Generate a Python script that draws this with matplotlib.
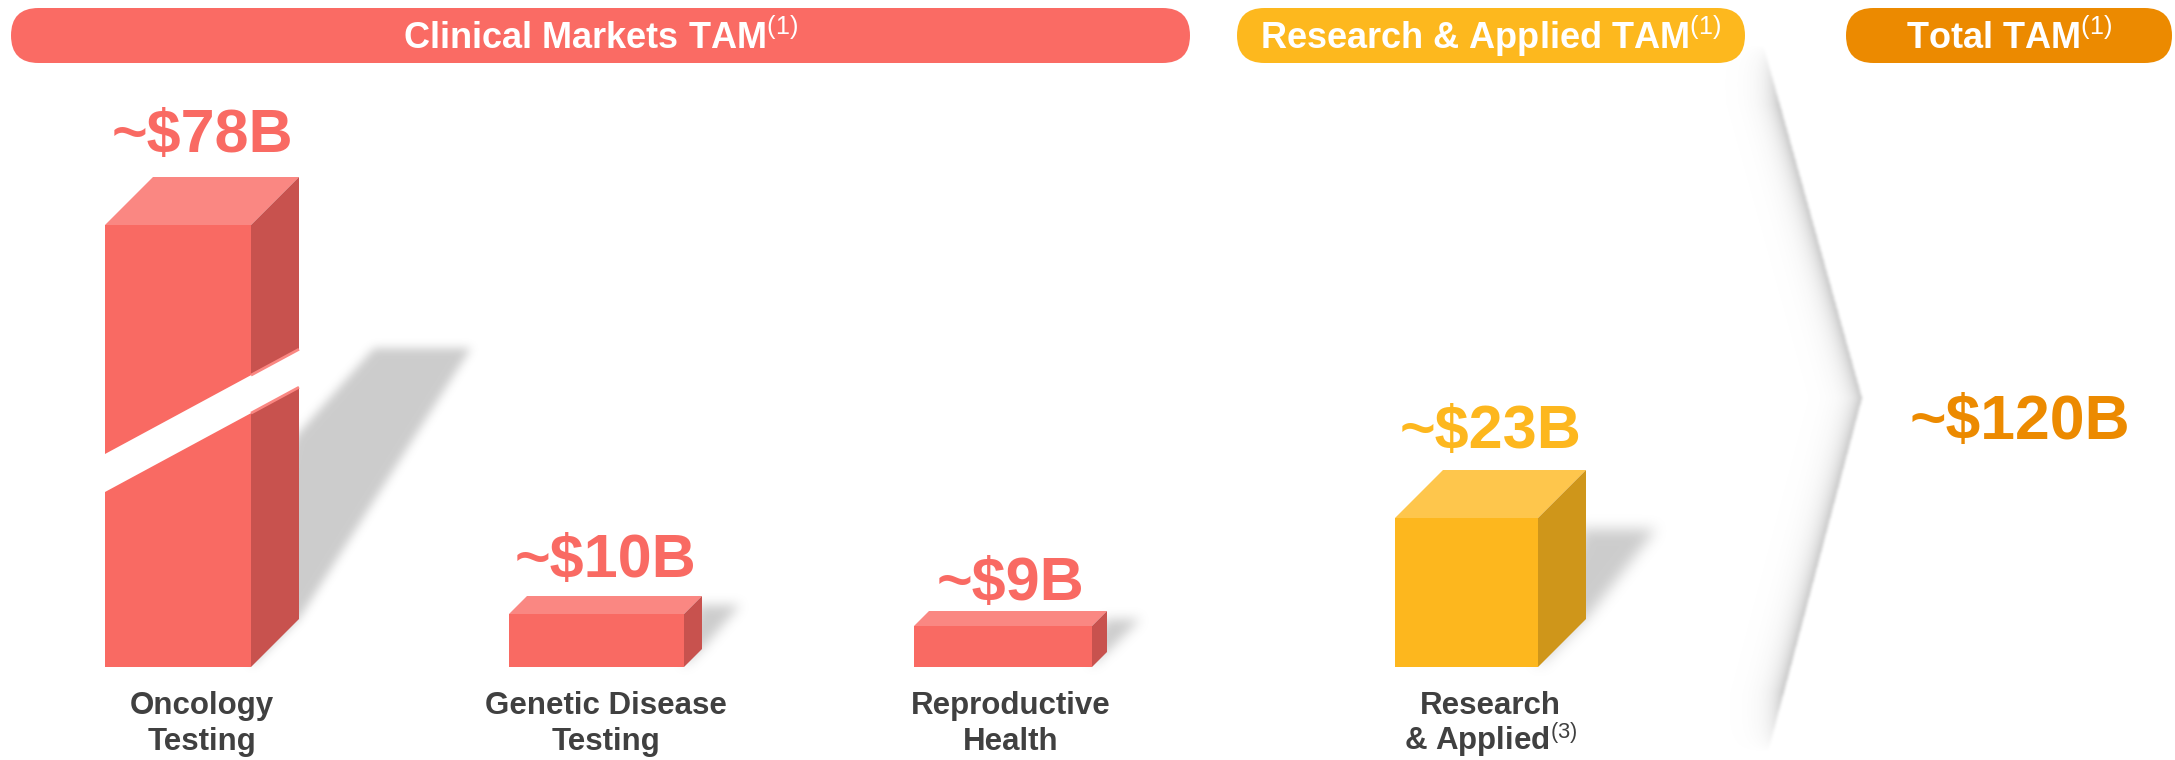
import numpy as np
import matplotlib
matplotlib.use('Agg')
import matplotlib.pyplot as plt
from matplotlib.patches import Polygon, FancyBboxPatch
from matplotlib.path import Path

plt.rcParams['font.family'] = 'Liberation Sans'
plt.rcParams['mathtext.fontset'] = 'custom'
plt.rcParams['mathtext.rm'] = 'Liberation Sans'

# ---- data ----
segments = ['Oncology\nTesting', 'Genetic Disease\nTesting', 'Reproductive\nHealth',
            'Research\n& Applied$^{\\mathrm{(3)}}$']
tam_billion = [78, 10, 9, 23]
total_tam = 120
group_titles = ['Clinical Markets TAM', 'Research & Applied TAM', 'Total TAM']
# front-face heights as drawn (oncology bar is broken, not to scale)
drawn_height = [442, 53, 41, 149]

# ---- layout (pixel units, y up) ----
W, H = 2175, 760
base = 93
bar_left = [105, 509, 914, 1395]
bar_width = [146, 175, 178, 143]
bar_depth = [48, 18, 15, 48]
bar_group = [0, 0, 0, 1]
label_gap = [25, 19, 11, 22]
shadow_rise = [319, 62, 48, 138]
shadow_join = [230, 55, 42, 128]
shadow_lean = [172, 38, 34, 70]
shadow_wide = [97, 45, 36, 80]
shadow_blur = [4, 5, 5, 6]

pill_x = [(11, 1190), (1237, 1745), (1846, 2172)]
pill_y, pill_h = 697, 55

red = {'front': '#F96A63', 'top': '#FA8782', 'side': '#C8524E', 'text': '#F96A63'}
gold = {'front': '#FDB71E', 'top': '#FEC64C', 'side': '#CF961A', 'text': '#FDB71E'}
group_col = [red, gold]
pill_col = ['#FA6B64', '#FDB81E', '#EC8A00']
total_col = '#EC8A00'
grey_txt = '#404040'

fig = plt.figure(figsize=(W / 100, H / 100), dpi=100)
ax = fig.add_axes([0, 0, 1, 1])


def box1d(a, r, axis):
    a = np.moveaxis(a, axis, 0)
    p = np.pad(a, ((r + 1, r), (0, 0)))
    c = np.cumsum(p, axis=0)
    out = (c[2 * r + 1:] - c[:-2 * r - 1]) / (2 * r + 1)
    return np.moveaxis(out, 0, axis)


def blur(a, r):
    for _ in range(3):
        a = box1d(a, r, 0)
        a = box1d(a, r, 1)
    return a


def poly_mask(pts):
    path = Path([(x, H - y) for x, y in pts])
    yy, xx = np.mgrid[0:H, 0:W]
    inside = path.contains_points(np.c_[xx.ravel() + 0.5, yy.ravel() + 0.5])
    return inside.reshape(H, W).astype(float)


# soft shadows behind the bars
shade = np.zeros((H, W))
for i in range(len(tam_billion)):
    l, w, d = bar_left[i], bar_width[i], bar_depth[i]
    r = l + w + d
    poly = [(l + w, base), (r, base + d), (r + shadow_lean[i], base + shadow_rise[i]),
            (r + shadow_lean[i] - shadow_wide[i], base + shadow_rise[i]),
            (r - 4, base + shadow_join[i]), (l + w, base + d)]
    shade = np.maximum(shade, blur(poly_mask(poly), shadow_blur[i]) * 0.44)

# chevron separator shading
yd = np.arange(H) + 0.5
x_line = np.where(yd <= 398, 1764 + (yd - 48) / 350 * 98, 1862 + (yd - 398) / 354 * (-94))
xx = np.arange(W)[None, :] + 0.5
dist = x_line[:, None] - xx
band = np.where(dist >= 0, np.exp(-dist / 11.0), 0) * 0.5
band = blur(band, 1)
fade = np.clip((yd - 45) / 60, 0, 1) * np.clip((752 - yd) / 60, 0, 1)
shade = np.maximum(shade, band * fade[:, None])

rgba = np.zeros((H, W, 4))
rgba[..., :3] = 0.55
rgba[..., 3] = np.clip(shade, 0, 1)
ax.imshow(rgba, extent=(0, W, 0, H), origin='upper', zorder=1, interpolation='bilinear')
ax.set_xlim(0, W)
ax.set_ylim(0, H)
ax.set_aspect('auto')
ax.axis('off')

# 3D bars
for i in range(len(tam_billion)):
    l, w, d, h = bar_left[i], bar_width[i], bar_depth[i], drawn_height[i]
    c = group_col[bar_group[i]]
    ax.bar(l, h, width=w, bottom=base, align='edge', color=c['front'], zorder=3, linewidth=0)
    top = base + h
    ax.add_patch(Polygon([(l, top), (l + d, top + d), (l + w + d, top + d), (l + w, top)],
                         closed=True, facecolor=c['top'], edgecolor='none', zorder=3))
    ax.add_patch(Polygon([(l + w, base), (l + w + d, base + d), (l + w + d, top + d), (l + w, top)],
                         closed=True, facecolor=c['side'], edgecolor='none', zorder=3))
    cx = l + (w + d) / 2
    ax.text(cx, top + d + label_gap[i], '~\\$%dB' % tam_billion[i],
            ha='center', va='baseline', fontsize=44, fontweight='bold', color=c['text'], zorder=6)
    for k, line in enumerate(segments[i].split('\n')):
        ax.text(cx, 46 - 36 * k, line, ha='center', va='baseline', fontsize=22.5,
                fontweight='bold', color=grey_txt, zorder=6)

# axis break on the oncology bar
l, w, d = bar_left[0], bar_width[0], bar_depth[0]
lo, hi, slope = base + 175, base + 213, 0.54
x0, x1 = l - 6, l + w + d + 6
ax.add_patch(Polygon([(x0, lo + (x0 - l) * slope), (x1, lo + (x1 - l) * slope),
                      (x1, hi + (x1 - l) * slope), (x0, hi + (x0 - l) * slope)],
                     closed=True, facecolor='white', edgecolor='none', zorder=4))
for yb in (lo, hi):
    ax.plot([l + w, l + w + d], [yb + w * slope, yb + (w + d) * slope],
            color=red['top'], lw=2, zorder=5, solid_capstyle='butt')

# header pills
for j, title in enumerate(group_titles):
    a, b = pill_x[j]
    ax.add_patch(FancyBboxPatch((a, pill_y), b - a, pill_h,
                                boxstyle='round,pad=0,rounding_size=%.1f' % (pill_h / 2),
                                facecolor=pill_col[j], edgecolor='none', zorder=3))
    ax.text((a + b) / 2, pill_y + pill_h / 2 - 13, title + r'$^{\mathrm{(1)}}$',
            ha='center', va='baseline', fontsize=26, fontweight='bold', color='white', zorder=6)

ax.text(2020, 321, '~\\$%dB' % total_tam, ha='center', va='baseline', fontsize=45,
        fontweight='bold', color=total_col, zorder=6)

fig.savefig('out.png', dpi=100, facecolor='white')
